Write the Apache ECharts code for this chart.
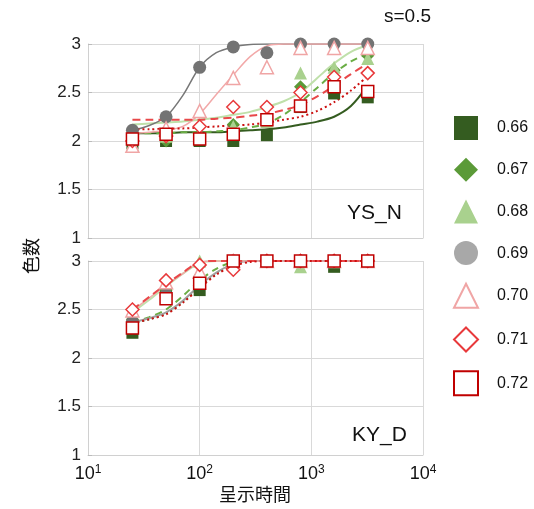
<!DOCTYPE html>
<html><head><meta charset="utf-8">
<script src="https://cdn.jsdelivr.net/npm/echarts@6/dist/echarts.min.js"></script>
<style>html,body{margin:0;padding:0;background:#fff}#c{width:534px;height:509px}</style>
</head><body><div id="c"></div>
<script>
// ---- data ----
const times = [25, 50, 100, 200, 400, 800, 1600, 3200];
const seriesNames = ['0.66', '0.67', '0.68', '0.69', '0.70', '0.71', '0.72'];
const xTicks = [10, 100, 1000, 10000];
const yTicks = [1, 1.5, 2, 2.5, 3];

// YS_N observed
const ysn066 = [1.98, 2.00, 2.00, 2.00, 2.06, 2.35, 2.49, 2.45];
const ysn067 = [1.99, 2.00, 2.04, 2.17, 2.20, 2.56, 2.73, 2.88];
const ysn068 = [1.97, 2.05, 2.08, 2.15, 2.20, 2.70, 2.76, 2.85];
const ysn069 = [2.11, 2.25, 2.76, 2.97, 2.91, 3.00, 3.00, 3.00];
const ysn070 = [1.95, 2.13, 2.31, 2.65, 2.76, 2.96, 2.96, 2.96];
const ysn071 = [2.00, 2.05, 2.15, 2.35, 2.35, 2.50, 2.66, 2.70];
const ysn072 = [2.02, 2.07, 2.02, 2.07, 2.22, 2.36, 2.56, 2.51];

// KY_D observed
const kyd066 = [2.26, 2.67, 2.70, 3.00, 3.00, 3.00, 2.94, 3.00];
const kyd067 = [2.40, 2.70, 2.80, 3.00, 3.00, 3.00, 3.00, 3.00];
const kyd068 = [2.43, 2.78, 3.00, 3.00, 3.00, 2.94, 3.00, 3.00];
const kyd069 = [2.37, 2.65, 2.82, 3.00, 3.00, 3.00, 3.00, 3.00];
const kyd070 = [2.49, 2.78, 2.89, 3.00, 3.00, 3.00, 3.00, 3.00];
const kyd071 = [2.50, 2.80, 2.96, 2.91, 3.00, 3.00, 3.00, 3.00];
const kyd072 = [2.31, 2.61, 2.77, 3.00, 3.00, 3.00, 3.00, 3.00];

// fitted curves read at these times
const fitTimes = [25, 35.4, 50, 70.7, 100, 141, 200, 283, 400, 566, 800, 1131, 1600, 2263, 3200];
// YS_N fits
const ysnFit066 = [2.08, 2.08, 2.08, 2.09, 2.09, 2.09, 2.10, 2.11, 2.12, 2.14, 2.17, 2.20, 2.25, 2.36, 2.57];
const ysnFit067 = [2.08, 2.08, 2.08, 2.09, 2.09, 2.10, 2.11, 2.14, 2.18, 2.27, 2.40, 2.55, 2.70, 2.82, 2.90];
const ysnFit068 = [2.17, 2.18, 2.19, 2.20, 2.22, 2.24, 2.27, 2.30, 2.35, 2.41, 2.50, 2.65, 2.80, 2.92, 2.99];
const ysnFit069 = [2.11, 2.16, 2.25, 2.47, 2.76, 2.91, 2.97, 2.995, 3.00, 3.00, 3.00, 3.00, 3.00, 3.00, 3.00];
const ysnFit070 = [2.08, 2.09, 2.11, 2.15, 2.28, 2.48, 2.68, 2.87, 2.98, 3.00, 3.00, 3.00, 3.00, 3.00, 3.00];
const ysnFit071 = [2.22, 2.22, 2.22, 2.22, 2.22, 2.23, 2.24, 2.26, 2.28, 2.32, 2.37, 2.46, 2.57, 2.69, 2.80];
const ysnFit072 = [2.12, 2.12, 2.13, 2.13, 2.14, 2.15, 2.16, 2.17, 2.19, 2.22, 2.25, 2.31, 2.40, 2.52, 2.67];
// KY_D fits
const kydFit066 = [2.36, 2.40, 2.46, 2.58, 2.73, 2.87, 2.96, 3.00, 3.00, 3.00, 3.00, 3.00, 3.00, 3.00, 3.00];
const kydFit067 = [2.37, 2.42, 2.50, 2.64, 2.80, 2.92, 2.99, 3.00, 3.00, 3.00, 3.00, 3.00, 3.00, 3.00, 3.00];
const kydFit068 = [2.47, 2.60, 2.74, 2.87, 2.98, 3.00, 3.00, 3.00, 3.00, 3.00, 3.00, 3.00, 3.00, 3.00, 3.00];
const kydFit069 = [2.37, 2.41, 2.47, 2.59, 2.75, 2.88, 2.97, 3.00, 3.00, 3.00, 3.00, 3.00, 3.00, 3.00, 3.00];
const kydFit070 = [2.49, 2.62, 2.75, 2.87, 2.99, 3.00, 3.00, 3.00, 3.00, 3.00, 3.00, 3.00, 3.00, 3.00, 3.00];
const kydFit071 = [2.50, 2.63, 2.76, 2.88, 2.99, 3.00, 3.00, 3.00, 3.00, 3.00, 3.00, 3.00, 3.00, 3.00, 3.00];
const kydFit072 = [2.36, 2.40, 2.45, 2.57, 2.72, 2.86, 2.95, 2.99, 3.00, 3.00, 3.00, 3.00, 3.00, 3.00, 3.00];

// ---- styles ----
const markerStyles = {
  '0.66': {symbol:'rect', size:12, color:'#345c20', border:'#345c20', bw:0},
  '0.67': {symbol:'diamond', size:13, color:'#5b9a38', border:'#5b9a38', bw:0},
  '0.68': {symbol:'triangle', size:13, color:'#a9d18e', border:'#a9d18e', bw:0},
  '0.69': {symbol:'circle', size:13, color:'#737373', border:'#737373', bw:0},
  '0.70': {symbol:'triangle', size:13, color:'#ffffff', border:'#f0a5a5', bw:1.5},
  '0.71': {symbol:'diamond', size:13, color:'#ffffff', border:'#e8393b', bw:1.5},
  '0.72': {symbol:'rect', size:12, color:'#ffffff', border:'#c00000', bw:1.5}
};
const lineStylesTop = {
  '0.66': {color:'#345c20', type:'solid', width:2},
  '0.67': {color:'#6aad45', type:[7,5], width:2},
  '0.68': {color:'#bfe0aa', type:'solid', width:2},
  '0.69': {color:'#777777', type:'solid', width:1.5},
  '0.70': {color:'#f2a9a9', type:'solid', width:1.5},
  '0.71': {color:'#e8484a', type:[8,5], width:2},
  '0.72': {color:'#cc1010', type:[2,3], width:2}
};
const lineStylesBot = {
  '0.66': {color:'#345c20', type:[2,3], width:2},
  '0.67': {color:'#6aad45', type:[7,5], width:2},
  '0.68': {color:'#bfe0aa', type:'solid', width:2},
  '0.69': {color:'#a0a0a0', type:'solid', width:2},
  '0.70': {color:'#f2a9a9', type:'solid', width:1.5},
  '0.71': {color:'#e8484a', type:[8,5], width:2},
  '0.72': {color:'#cc1010', type:[2,3], width:2}
};

const ysnObs = [ysn066, ysn067, ysn068, ysn069, ysn070, ysn071, ysn072];
const kydObs = [kyd066, kyd067, kyd068, kyd069, kyd070, kyd071, kyd072];
const ysnFits = [ysnFit066, ysnFit067, ysnFit068, ysnFit069, ysnFit070, ysnFit071, ysnFit072];
const kydFits = [kydFit066, kydFit067, kydFit068, kydFit069, kydFit070, kydFit071, kydFit072];

const series = [];
[[ysnFits, 0, lineStylesTop], [kydFits, 1, lineStylesBot]].forEach(([fits, gi, ls]) => {
  fits.forEach((f, i) => {
    const n = seriesNames[i];
    series.push({
      type:'line', name:'fit'+gi+'_'+n, xAxisIndex:gi, yAxisIndex:gi,
      data:fitTimes.map((t, k) => [t, f[k]]), showSymbol:false, smooth:0.3, z:1,
      lineStyle:{color:ls[n].color, type:ls[n].type, width:ls[n].width}, silent:true
    });
  });
});
[[ysnObs, 0], [kydObs, 1]].forEach(([obs, gi]) => {
  obs.forEach((vals, i) => {
    const n = seriesNames[i];
    const m = markerStyles[n];
    series.push({
      type:'scatter', name:n, xAxisIndex:gi, yAxisIndex:gi, z:3,
      data: times.map((t, k) => [t, vals[k]]),
      symbol:m.symbol, symbolSize:m.size,
      itemStyle:{color:m.color, borderColor:m.border, borderWidth:m.bw, opacity:1}
    });
  });
});

const FONT = '"Liberation Sans", Arial, sans-serif';
const CJK = '"Noto Sans CJK JP", sans-serif';

function xAxisCfg(gi, showLabel) {
  return {
    type:'log', logBase:10, gridIndex:gi, min:xTicks[0], max:xTicks[xTicks.length-1],
    axisLine:{show:true, lineStyle:{color:'#d0d0d0'}},
    axisTick:{show:false},
    splitLine:{show:true, lineStyle:{color:'#d9d9d9', width:1}},
    minorTick:{show:false},
    axisLabel:{
      show:showLabel, margin:9, color:'#111',
      formatter: v => '{b|10}{s|' + Math.round(Math.log10(v)) + '}',
      rich:{ b:{fontSize:18, fontFamily:FONT, color:'#111'},
             s:{fontSize:12, fontFamily:FONT, color:'#111', padding:[0,0,9,0]} }
    }
  };
}
function yAxisCfg(gi) {
  return {
    type:'value', gridIndex:gi, min:yTicks[0], max:yTicks[yTicks.length-1], interval:0.5,
    axisLine:{show:true, lineStyle:{color:'#d0d0d0'}},
    axisTick:{show:true, inside:true, length:4, lineStyle:{color:'#bbb'}},
    splitLine:{show:true, lineStyle:{color:'#d9d9d9', width:1}},
    axisLabel:{fontSize:17, fontFamily:FONT, color:'#222', margin:7,
      formatter: v => String(v)}
  };
}

const chart = echarts.init(document.getElementById('c'), null, {renderer:'canvas'});
chart.setOption({
  animation:false,
  backgroundColor:'#ffffff',
  grid:[
    {left:88, top:44, width:335, height:194},
    {left:88, top:261, width:335, height:194}
  ],
  xAxis:[xAxisCfg(0, false), xAxisCfg(1, true)],
  yAxis:[yAxisCfg(0), yAxisCfg(1)],
  legend:{
    orient:'vertical', left:448, top:111, itemWidth:24, itemHeight:24, itemGap:17.7,
    textStyle:{fontSize:16, fontFamily:FONT, color:'#111', padding:[0,0,0,14]},
    data: seriesNames.map(n => n === '0.69'
      ? {name:n, itemStyle:{color:'#a8a8a8', borderColor:'#a8a8a8'}}
      : {name:n})
  },
  graphic:[
    {type:'text', left:384, top:7, style:{text:'s=0.5', font:'19px '+FONT, fill:'#111'}},
    {type:'text', left:347, top:203, style:{text:'YS_N', font:'21px '+FONT, fill:'#111'}},
    {type:'text', left:352, top:425, style:{text:'KY_D', font:'21px '+FONT, fill:'#111'}},
    {type:'text', x:31, y:256, rotation:Math.PI/2,
      style:{text:'色数', font:'18px '+CJK, fill:'#111', textAlign:'center', textVerticalAlign:'middle'}},
    {type:'text', x:255, y:494,
      style:{text:'呈示時間', font:'18px '+CJK, fill:'#111', textAlign:'center', textVerticalAlign:'middle'}}
  ],
  series: series
});
</script></body></html>
